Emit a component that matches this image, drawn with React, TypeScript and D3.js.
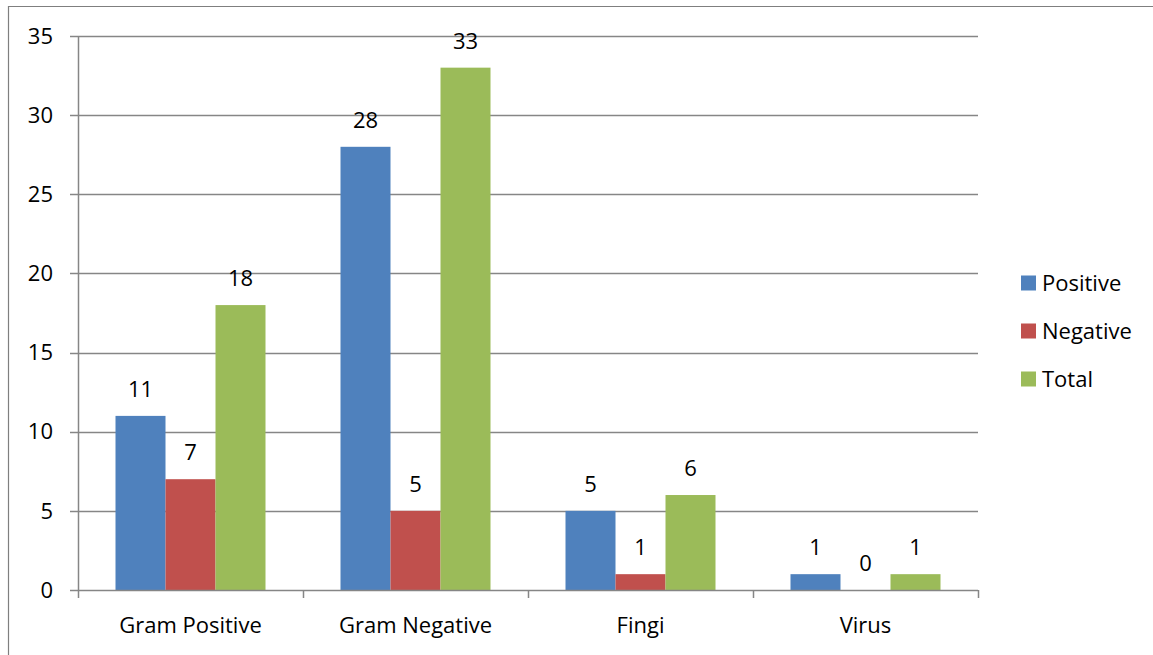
import * as d3 from "d3";
import { useEffect, useRef } from "react";

const categories = ["Gram Positive", "Gram Negative", "Fingi", "Virus"];
const seriesNames = ["Positive", "Negative", "Total"];
const positive = [11, 28, 5, 1];
const negative = [7, 5, 1, 0];
const total = [18, 33, 6, 1];
const yTicks = [0, 5, 10, 15, 20, 25, 30, 35];

const colors = ["#4f81bd", "#c0504d", "#9bbb59"];

export default function App() {
  const svgRef = useRef(null);

  useEffect(() => {
    const width = 1153;
    const height = 655;
    const font = "'Open Sans', sans-serif";
    const fs = 22;
    const values = [positive, negative, total];

    const svg = d3.select(svgRef.current);
    svg.selectAll("*").remove();
    svg.attr("width", width).attr("height", height);

    // chart frame
    svg
      .append("path")
      .attr("d", "M8.5,655 L8.5,6.5 L1153,6.5")
      .attr("fill", "none")
      .attr("stroke", "#7f7f7f")
      .attr("stroke-width", 1.2);

    const left = 78;
    const right = 978;
    const top = 36;
    const bottom = 590;

    const x = d3.scaleBand().domain(categories).range([left, right]).paddingInner(0).paddingOuter(0);
    const inner = d3
      .scaleBand()
      .domain(seriesNames)
      .range([0, x.bandwidth()])
      .paddingOuter(0.75)
      .paddingInner(0);
    const y = d3.scaleLinear().domain([0, 35]).range([bottom, top]);

    // grid lines
    svg
      .append("g")
      .selectAll("line")
      .data(yTicks.filter((t) => t > 0))
      .enter()
      .append("line")
      .attr("x1", left - 8)
      .attr("x2", right)
      .attr("y1", (d) => Math.round(y(d)) + 0.5)
      .attr("y2", (d) => Math.round(y(d)) + 0.5)
      .attr("stroke", "#868686")
      .attr("stroke-width", 1.5);

    // bars
    seriesNames.forEach((s, si) => {
      const g = svg.append("g");
      g.selectAll("rect")
        .data(categories)
        .enter()
        .append("rect")
        .attr("x", (c) => x(c) + inner(s))
        .attr("width", inner.bandwidth())
        .attr("y", (c, i) => y(values[si][i]))
        .attr("height", (c, i) => bottom - y(values[si][i]))
        .attr("fill", colors[si]);

      g.selectAll("text")
        .data(categories)
        .enter()
        .append("text")
        .attr("x", (c) => x(c) + inner(s) + inner.bandwidth() / 2)
        .attr("y", (c, i) => y(values[si][i]) - 19)
        .attr("text-anchor", "middle")
        .attr("font-family", font)
        .attr("font-size", fs)
        .attr("fill", "#000")
        .text((c, i) => values[si][i]);
    });

    // y axis
    svg
      .append("line")
      .attr("x1", left + 0.5)
      .attr("x2", left + 0.5)
      .attr("y1", top)
      .attr("y2", bottom)
      .attr("stroke", "#868686")
      .attr("stroke-width", 1.5);
    svg
      .append("line")
      .attr("x1", left - 8)
      .attr("x2", left)
      .attr("y1", y(0) + 0.5)
      .attr("y2", y(0) + 0.5)
      .attr("stroke", "#868686")
      .attr("stroke-width", 1.5);
    svg
      .append("g")
      .selectAll("text")
      .data(yTicks)
      .enter()
      .append("text")
      .attr("x", 53)
      .attr("y", (d) => y(d))
      .attr("dy", "0.35em")
      .attr("text-anchor", "end")
      .attr("font-family", font)
      .attr("font-size", fs)
      .text((d) => d);

    // x axis
    svg
      .append("line")
      .attr("x1", left)
      .attr("x2", right)
      .attr("y1", bottom + 0.5)
      .attr("y2", bottom + 0.5)
      .attr("stroke", "#868686")
      .attr("stroke-width", 1.5);
    const edges = categories.map((c) => x(c)).concat([right]);
    svg
      .append("g")
      .selectAll("line")
      .data(edges)
      .enter()
      .append("line")
      .attr("x1", (d) => d + 0.5)
      .attr("x2", (d) => d + 0.5)
      .attr("y1", bottom)
      .attr("y2", bottom + 8)
      .attr("stroke", "#868686")
      .attr("stroke-width", 1.5);
    svg
      .append("g")
      .selectAll("text")
      .data(categories)
      .enter()
      .append("text")
      .attr("x", (c) => x(c) + x.bandwidth() / 2)
      .attr("y", 625)
      .attr("dy", "0.35em")
      .attr("text-anchor", "middle")
      .attr("font-family", font)
      .attr("font-size", fs)
      .text((c) => c);

    // legend
    const legend = svg.append("g");
    seriesNames.forEach((s, i) => {
      const cy = 283 + i * 48;
      legend
        .append("rect")
        .attr("x", 1021)
        .attr("y", cy - 7.5)
        .attr("width", 15)
        .attr("height", 15)
        .attr("fill", colors[i]);
      legend
        .append("text")
        .attr("x", 1042)
        .attr("y", cy)
        .attr("dy", "0.35em")
        .attr("font-family", font)
        .attr("font-size", fs)
        .text(s);
    });
  }, []);

  return (
    <svg
      ref={svgRef}
      style={{ position: "absolute", left: 0, top: 0, display: "block" }}
    ></svg>
  );
}
